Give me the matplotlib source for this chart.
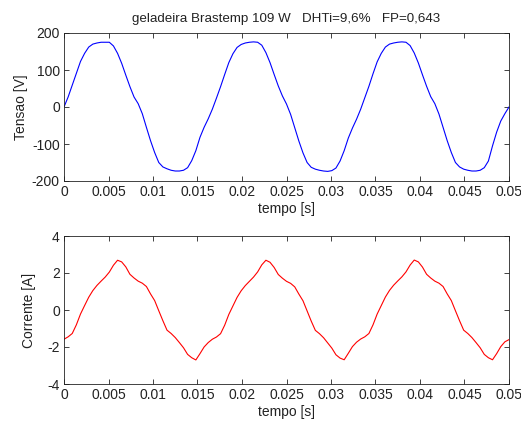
import numpy as np
import matplotlib
matplotlib.use("Agg")
import matplotlib.pyplot as plt

# 3 cycles of 60 Hz, 36 samples per cycle
t = np.linspace(0, 0.05, 109)

tensao = [
    0, 27, 59, 91, 123, 145, 162, 170, 173, 175, 175, 175,
    165, 145, 118, 86, 55, 27, 9, -18, -55, -91, -123, -150,
    -162, -167, -171, -173, -173, -171, -164, -145, -118, -82, -55, -32,
    -6, 24, 55, 88, 120, 144, 161, 169, 173, 175, 176, 175,
    167, 147, 120, 88, 57, 30, 8, -20, -56, -92, -124, -150,
    -163, -168, -171, -173, -174, -172, -165, -146, -118, -84, -57, -33,
    -6, 25, 56, 90, 122, 145, 162, 170, 173, 175, 176, 175,
    166, 146, 119, 87, 56, 28, 9, -19, -55, -91, -123, -150,
    -162, -168, -171, -173, -173, -171, -164, -146, -105, -68, -38, -18,
    0,
]

corrente = [
    -1.58, -1.45, -1.27, -0.80, -0.22, 0.24, 0.69, 1.05, 1.33, 1.56, 1.78, 2.05,
    2.42, 2.69, 2.60, 2.33, 1.93, 1.73, 1.56, 1.45, 1.27, 0.87, 0.51, -0.04,
    -0.58, -1.09, -1.27, -1.49, -1.76, -2.04, -2.40, -2.58, -2.70, -2.36, -2.00, -1.76,
    -1.58, -1.46, -1.28, -0.82, -0.24, 0.22, 0.68, 1.04, 1.32, 1.55, 1.78, 2.06,
    2.44, 2.69, 2.58, 2.30, 1.92, 1.72, 1.55, 1.44, 1.25, 0.86, 0.50, -0.05,
    -0.60, -1.10, -1.28, -1.50, -1.78, -2.06, -2.42, -2.60, -2.69, -2.34, -1.98, -1.74,
    -1.57, -1.45, -1.27, -0.80, -0.22, 0.24, 0.70, 1.06, 1.34, 1.57, 1.79, 2.06,
    2.43, 2.70, 2.60, 2.32, 1.93, 1.73, 1.56, 1.45, 1.27, 0.87, 0.51, -0.04,
    -0.58, -1.09, -1.27, -1.49, -1.76, -2.04, -2.40, -2.58, -2.69, -2.36, -1.98, -1.72,
    -1.60,
]

x_ticks = [0, 0.005, 0.01, 0.015, 0.02, 0.025, 0.03, 0.035, 0.04, 0.045, 0.05]
x_labels = ["0", "0.005", "0.01", "0.015", "0.02", "0.025", "0.03", "0.035", "0.04", "0.045", "0.05"]

plt.rcParams['font.family'] = ['Liberation Sans', 'DejaVu Sans']
plt.rcParams['axes.unicode_minus'] = False
plt.rcParams['font.size'] = 10

fig = plt.figure(figsize=(5.21, 4.26), dpi=100)
ax1 = fig.add_axes([64/521, 1 - 181/426, 445/521, 148/426])
ax2 = fig.add_axes([64/521, 1 - 384/426, 445/521, 148/426])


def style(ax):
    ax.set_xlim(0, 0.05)
    ax.set_xticks(x_ticks)
    ax.set_xticklabels(x_labels)
    ax.tick_params(direction='in', length=3.5, width=0.6, top=True, right=True,
                   colors='#222222', labelcolor='#222222', pad=3)
    for s in ax.spines.values():
        s.set_linewidth(0.6)
        s.set_color('#222222')
    ax.set_xlabel('tempo [s]', color='#222222', labelpad=2)


ax1.plot(t, tensao, color='#0000ff', lw=0.8)
ax1.set_ylim(-200, 200)
ax1.set_yticks([-200, -100, 0, 100, 200])
ax1.set_ylabel('Tensao [V]', color='#222222', labelpad=3)
ax1.set_title('geladeira Brastemp 109 W   DHTi=9,6%   FP=0,643', fontsize=9.6,
              color='#222222', pad=8)
style(ax1)

ax2.plot(t, corrente, color='#ff0000', lw=0.8)
ax2.set_ylim(-4, 4)
ax2.set_yticks([-4, -2, 0, 2, 4])
ax2.set_ylabel('Corrente [A]', color='#222222', labelpad=8)
style(ax2)

fig.savefig('out.png', dpi=100)
